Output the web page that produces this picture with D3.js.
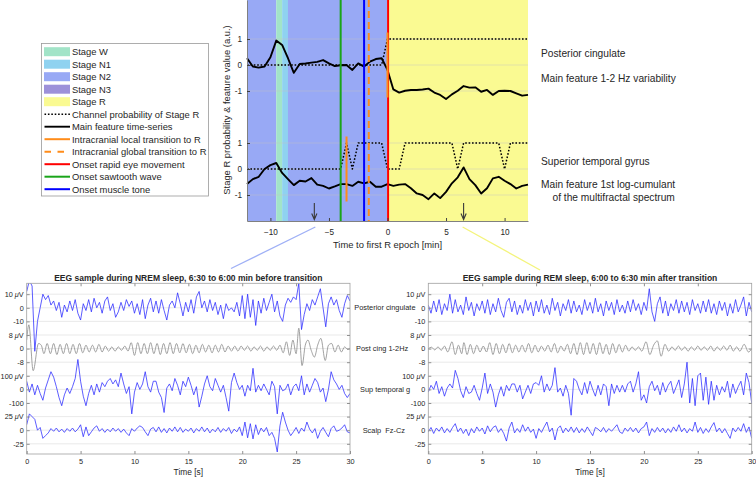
<!DOCTYPE html>
<html>
<head>
<meta charset="utf-8">
<script src="https://cdn.jsdelivr.net/npm/d3@7"></script>
<style>
body { margin: 0; background: #fff; }
text { font-family: "Liberation Sans", Arial, sans-serif; fill: #262626; }
</style>
</head>
<body>
<div id="chart-area"></div>
<script>
/*
*    Stage R transition figure: feature time-series + two EEG samples
*/

// ---------------- data: top panel ----------------
var epochMin = [-12, -11.5, -11, -10.5, -10, -9.5, -9, -8.5, -8, -7.5, -7, -6.5, -6, -5.5, -5, -4.5,
    -4, -3.5, -3, -2.5, -2, -1.5, -1, -0.5, 0, 0.5, 1, 1.5, 2, 2.5, 3, 3.5, 4, 4.5, 5, 5.5,
    6, 6.5, 7, 7.5, 8, 8.5, 9, 9.5, 10, 10.5, 11, 11.5, 12];

// one stage per 30 s epoch (48 epochs)
var hypnogram = ["N2", "N2", "N2", "N2", "N2", "W", "N1", "N2", "N2", "N2", "N2", "N2",
    "N2", "N2", "N2", "N2", "N2", "N2", "N2", "N2", "N2", "N2", "N2", "N2",
    "R", "R", "R", "R", "R", "R", "R", "R", "R", "R", "R", "R",
    "R", "R", "R", "R", "R", "R", "R", "R", "R", "R", "R", "R"];

var stageNames = ["W", "N1", "N2", "N3", "R"];
var stageColors = ["#a2e4c8", "#8fd2f0", "#98a9f5", "#9d91d9", "#fafa92"];

// posterior cingulate
var probPosterior = [0, 0, 0, 0, 0, 0, 0, 0, 0, 0, 0, 0, 0, 0, 0, 0, 0, 0, 0, 0, 0, 0, 0, 0,
    1, 1, 1, 1, 1, 1, 1, 1, 1, 1, 1, 1, 1, 1, 1, 1, 1, 1, 1, 1, 1, 1, 1, 1, 1];
var featPosterior = [0.26, -0.06, -0.1, -0.06, 0.3, 0.94, 0.77, 0.26, -0.3, 0.04, 0.06, 0.09,
    0.12, 0.19, 0.06, -0.04, -0.01, 0, -0.19, 0.06, -0.06, 0.13, 0.23, 0.26,
    -0.19, -0.94, -1.06, -0.99, -0.96, -0.96, -0.94, -0.91, -1.06, -1.15, -1.31, -1.13,
    -0.99, -0.81, -0.87, -0.86, -1.03, -0.96, -1.15, -1.0, -0.99, -1.0, -1.09, -1.18, -1.15];

// superior temporal gyrus
var probTemporal = [0, 0, 0, 0, 0, 0, 0, 0, 0, 0, 0, 0, 0, 0, 0, 0, 0, 1, 0, 1, 1, 1, 1, 1,
    0, 0, 0, 1, 1, 1, 1, 1, 1, 1, 1, 1, 0, 1, 1, 1, 1, 1, 1, 1, 0, 1, 1, 1, 1];
var featTemporal = [-0.58, -0.39, -0.3, 0, 0.15, 0.23, -0.15, -0.39, -0.62, -0.45, -0.48, -0.35,
    -0.6, -0.65, -0.75, -0.67, -0.58, -0.58, -0.65, -0.49, -0.55, -0.49, -0.68, -0.68,
    -0.58, -0.65, -0.6, -0.58, -0.74, -0.94, -1.0, -1.16, -0.94, -1.12, -0.88, -0.55,
    -0.32, 0.06, -0.39, -0.62, -0.94, -0.74, -0.36, -0.3, -0.45, -0.58, -0.75, -0.65, -0.6];

var channelOffsets = [4, 0];   // posterior drawn above, temporal below

var eventNames = ["Onset sawtooth wave", "Onset muscle tone", "Intracranial global transition to R", "Onset rapid eye movement"];
var eventMin = [-4, -2, -1.6, 0.05];
var eventColors = ["#1aa51a", "#0000ff", "#ff8c1a", "#ff0000"];

var localMin = [0, -3.5];      // intracranial local transition per channel
var arrowMin = [-6.25, 6.5];   // where the EEG samples were taken

var legendLabels = ["Stage W", "Stage N1", "Stage N2", "Stage N3", "Stage R",
    "Channel probability of Stage R", "Main feature time-series",
    "Intracranial local transition to R", "Intracranial global transition to R",
    "Onset rapid eye movement", "Onset sawtooth wave", "Onset muscle tone"];

// ---------------- data: EEG samples (uV, one value every 0.25 s) ----------------
var eegStep = 0.25;
var rowNames = ["Posterior cingulate", "Post cing 1-2Hz", "Sup temporal g", "Scalp\u00a0 Fz-Cz"];
var rowUnits = [10, 8, 100, 25];
var rowTickLabels = [["10 \u03bcV", "0", "-10"], ["8 \u03bcV", "0", "-8"],
    ["100 \u03bcV", "0", "-100"], ["25 \u03bcV", "0", "-25"]];

var nremPosterior = [12, 20, 16, -32, -10, 0, 10, 6,
    9, 2, 5, -2, 4, -7, 2, -3,
    5, -2, 6, -4, -9, 3, -2, 6,
    -3, 7, 0, 4, -4, 5, 8, -2,
    3, -7, -3, 4, -2, 6, 1, 5,
    -4, 3, -5, 6, -8, 2, 7, -3,
    5, -4, 6, -2, -9, 2, 5, 0,
    11, 3, -6, 4, -3, 6, -4, 8,
    12, 0, 5, -3, 6, -2, 4, -5,
    2, -8, 3, -2, 0, -3, 4, -6,
    9, -8, 10, -7, 6, -13, 5, -4,
    7, -2, 4, 10, -3, 5, -6, -10,
    2, 7, 4, 8, 6, 18, -16, -5,
    3, -2, 6, 2, 8, 14, 0, -14,
    3, 8, 2, 6, -2, -7, 3, 9,
    5];
// band-passed trace: [time s, uV] at its peaks and troughs
var nremPostCing = [[0, 5], [0.2, 14], [0.6, -13], [1.1, 3], [1.35, 2], [1.6, -3], [1.9, 3], [2.2, -3],
    [2.5, 3], [2.8, -3.5], [3.1, 2.5], [3.4, -3], [3.7, 3], [4.0, -3], [4.3, 2.5], [4.6, -3],
    [4.9, 3], [5.2, -2.5], [5.5, 2], [5.8, -2], [6.1, 2], [6.4, -2], [6.7, 2.5], [7.0, -2],
    [7.3, 1.5], [7.6, -1.5], [7.9, 1], [8.2, -1.5], [8.5, 1], [8.8, -1], [9.1, 1.5], [9.4, -1.5],
    [9.7, 3.5], [10.0, -4], [10.3, 3.5], [10.6, -3], [10.9, 3], [11.2, -3], [11.5, 3.5], [11.8, -3],
    [12.1, 3], [12.4, -3.5], [12.7, 3], [13.0, -3], [13.3, 3.5], [13.6, -3], [13.9, 3], [14.2, -2.5],
    [14.5, 3], [14.8, -2.5], [15.1, 2.5], [15.4, -3], [15.7, 2], [16.0, -2.5], [16.3, 2.5], [16.6, -2],
    [16.9, 2], [17.2, -2.5], [17.5, 2], [17.8, -2], [18.1, 2.5], [18.4, -2], [18.7, 1.5], [19.0, -1.5],
    [19.3, 1.5], [19.6, -1.5], [19.9, 1.5], [20.2, -1], [20.5, 1.5], [20.8, -1.5], [21.1, 1], [21.4, -1],
    [21.7, 1.5], [22.0, -1.5], [22.3, 1], [22.6, -1], [22.9, 1.5], [23.2, -1], [23.5, 2], [23.8, -2.5],
    [24.1, 4], [24.4, -4], [24.7, 5], [25.0, -3], [25.25, 12], [25.55, -10], [25.85, 2], [26.1, 5],
    [26.4, -1], [26.7, -5], [27.0, 2], [27.3, 6], [27.7, -7], [28.0, 2], [28.3, 3], [28.6, -2],
    [28.9, 2], [29.2, -2], [29.5, 1], [29.8, -0.5], [30, 0.5]];
var nremTemporal = [60, -20, 40, -40, 30, -30, -80, 10,
    70, 130, 90, 20, -60, -120, -40, 10,
    -30, 20, 80, 220, 60, -50, -120, -30,
    30, -40, 40, -20, 50, 20, 60, 80,
    40, 70, 20, 120, 40, -30, 20, -180,
    -20, 50, 0, 40, 130, 20, -20, 60,
    60, -20, -60, -170, 10, 40, -10, 80,
    30, -40, 60, 20, 90, 30, -40, 20,
    -130, -50, 40, 100, 20, -10, 80, 30,
    -20, 30, -60, -160, 50, 120, 50, 0,
    30, -50, 30, -10, 155, -20, 30, -10,
    40, 0, -40, 60, 20, -180, 30, -10,
    0, 40, -40, 20, 40, -10, 100, -40,
    40, -20, 30, 80, 50, -20, 10, -90,
    0, 130, 70, 40, 0, 30, -30, -60,
    -30];
var nremScalp = [10, 30, 25, 20, 0, 5, -15, -10,
    -5, 3, -2, 4, -3, 2, -4, 3,
    -2, 4, -3, 2, 10, -12, 6, -10,
    -3, 4, 8, -2, 3, -4, 2, -3,
    4, -2, 3, -4, 2, -5, -10, 3,
    -2, 4, 8, 5, -3, -10, 2, 5,
    -3, 6, -4, 3, -5, 4, -2, 6,
    -3, 5, -4, 2, -2, 4, -5, 3,
    -2, 6, -3, 4, -5, 2, -3, 5,
    -4, 3, -2, 5, -6, 2, -3, 6,
    -10, 15, -14, 12, -16, 10, -8, 4,
    -3, 5, -10, -4, -15, -40, 8, 33,
    15, 0, -10, -3, 5, -6, 4, -2,
    15, 2, -5, 3, -15, -2, 5, -4,
    -12, 3, 8, -2, 0, 4, 10, -3,
    -5];

var remPosterior = [2, -4, 5, -3, 6, -5, 3, -2,
    10, -4, 6, -3, 2, -5, 8, -2,
    4, -6, 3, -2, 5, -4, 6, -5,
    3, -3, 7, -2, -7, 4, 7, -3,
    5, -5, 2, -4, 6, -2, 4, -6,
    5, -3, 6, -4, 2, -5, 7, -2,
    4, -6, 3, -2, 6, -4, 5, -3,
    2, -5, 6, -2, 4, -4, 7, -3,
    3, -6, 5, -2, 4, -5, 6, -3,
    2, -4, 5, -3, 6, -2, 3, -5,
    4, -2, 14, -3, -10, 3, 8, -4,
    5, -6, 3, -2, 6, -4, 5, -3,
    4, -5, 6, -2, 3, -4, 5, -3,
    6, -4, 3, -5, 5, -2, 4, -6,
    3, -4, 6, -3, 2, 8, -6, 4,
    -3];
var remPostCing = [[0, 0], [0.3, 0.8], [0.6, -0.8], [0.9, 1], [1.2, -1], [1.5, 1.5], [1.8, -2], [2.2, 4],
    [2.5, -3.5], [2.8, 2], [3.1, -3], [3.3, 3.5], [3.6, -3.5], [3.9, 2.5], [4.2, -3], [4.5, 2],
    [4.8, -2], [5.1, 1.5], [5.4, -2], [5.7, 3.5], [6.0, -3.5], [6.3, 3], [6.6, -3], [6.9, 2.5],
    [7.2, -2.5], [7.5, 3], [7.8, -2.5], [8.1, 2], [8.4, -2], [8.7, 2], [9.0, -2], [9.3, 3],
    [9.6, -2.5], [9.9, 2], [10.2, -2], [10.5, 1.5], [10.8, -1.5], [11.1, 2], [11.4, -2], [11.7, 3],
    [12.0, -2.5], [12.3, 1.5], [12.6, -1.5], [12.9, 2.5], [13.2, -3], [13.5, 3], [13.8, -3.5], [14.1, 3.5],
    [14.4, -3.5], [14.7, 3.5], [15.0, -3], [15.3, 3], [15.6, -3.5], [15.9, 3.5], [16.2, -3], [16.5, 2.5],
    [16.8, -3.5], [17.1, 3], [17.4, -2.5], [17.7, 2.5], [18.0, -2], [18.3, 2], [18.6, -1.5], [18.9, 1],
    [19.2, -1], [19.5, 1], [19.8, -1.5], [20.2, 4], [20.55, -3.5], [20.9, 2], [21.25, 4.5], [21.6, -4.5],
    [21.95, 2.5], [22.3, -1.5], [22.6, 1], [22.9, -1], [23.2, 1.5], [23.5, -1], [23.8, 1], [24.1, -1.5],
    [24.4, 1], [24.7, -1], [25.0, 1.5], [25.3, -1], [25.6, 1], [25.9, -1], [26.2, 1.5], [26.5, -1.5],
    [26.8, 1], [27.1, -1], [27.4, 1.5], [27.7, -1], [28.0, 2], [28.3, -1.5], [28.6, 1], [28.9, -1.5],
    [29.3, 2.5], [29.7, -2], [30, 0]];
var remTemporal = [-20, 30, 0, 60, -30, 20, -50, 10,
    40, 10, 140, 80, -10, -60, 20, -30,
    -20, 30, -30, -80, 10, 120, -30, 40,
    -20, -130, -40, 20, -50, 30, -10, 40,
    40, -20, 30, -70, -20, 30, -30, 40,
    50, 30, 100, -20, 40, -10, 30, 160,
    -20, 10, -50, 30, -30, -190, 80, 60,
    0, -40, 50, -30, 60, 0, -50, 30,
    -40, 40, 20, -120, 40, -30, 30, -20,
    30, -20, 40, 60, -20, 40, 130, -80,
    -40, -100, 20, 60, -10, 30, -40, 50,
    -20, 30, 60, -30, 20, 70, -60, 40,
    200, -100, 80, -120, 100, 120, -80, 90,
    -110, 60, -80, 30, -40, 20, -20, 60,
    -60, 40, -30, 20, 60, -40, 120, 50,
    -100];
var remScalp = [-3, 5, -6, 4, -2, 6, -5, 3,
    -4, 5, 12, -3, 4, -6, 2, -10,
    3, -5, 6, -2, 4, -7, 8, -3,
    5, 8, -4, 3, -6, -20, 4, 15,
    -5, 3, -4, 10, -2, 6, -4, 2,
    -15, 3, -4, 6, 15, -3, 4, -18,
    3, 8, -5, 4, -3, 6, -4, 5,
    -5, 3, -4, 6, -2, -10, 5, 2,
    -3, 5, -4, 3, -2, 4, 10, -3,
    -6, 4, -2, 5, -3, 4, -5, 3,
    6, 15, -10, 3, -4, 5, -3, 4,
    -5, 3, -4, 6, -2, 10, -3, 4,
    -5, 3, -2, 15, -4, 5, -6, 3,
    -4, 6, 14, -3, 4, -5, 3, -6,
    -15, 4, -3, 5, -2, 12, -4, 6,
    -15];

// ---------------- svg ----------------
var svg = d3.select("#chart-area")
    .append("svg")
        .attr("width", 756)
        .attr("height", 477);

// ================= top panel =================
var tp = { left: 247, right: 528, top: 0, bottom: 221 };

var x = d3.scaleLinear().domain([-12, 12]).range([tp.left, tp.right]);
var y = d3.scaleLinear().domain([-2, 6.5]).range([tp.bottom, tp.top]);
var stageColor = d3.scaleOrdinal().domain(stageNames).range(stageColors);

var g = svg.append("g");

// stage backgrounds, merged into runs
var runs = [];
hypnogram.forEach(function(s, i){
    var last = runs[runs.length - 1];
    if (last && last.stage === s) { last.t1 = epochMin[i + 1]; }
    else { runs.push({ stage: s, t0: epochMin[i], t1: epochMin[i + 1] }); }
});
g.selectAll("rect.stage")
    .data(runs)
    .enter().append("rect")
        .attr("class", "stage")
        .attr("x", function(d){ return x(d.t0); })
        .attr("y", tp.top)
        .attr("width", function(d){ return x(d.t1) - x(d.t0); })
        .attr("height", tp.bottom - tp.top)
        .attr("fill", function(d){ return stageColor(d.stage); });

// horizontal grid
var yTicks = [5, 4, 3, 1, 0, -1];
g.selectAll("line.grid")
    .data(yTicks)
    .enter().append("line")
        .attr("x1", tp.left).attr("x2", tp.right)
        .attr("y1", function(d){ return y(d); })
        .attr("y2", function(d){ return y(d); })
        .attr("stroke", "#c4c4c4")
        .attr("stroke-opacity", 0.55)
        .attr("stroke-width", 0.8);

// probability (dotted) and main feature (solid) per channel
var series = [
    { values: probPosterior, off: channelOffsets[0], dash: "1.6,1.8", w: 1.5 },
    { values: probTemporal, off: channelOffsets[1], dash: "1.6,1.8", w: 1.5 },
    { values: featPosterior, off: channelOffsets[0], dash: null, w: 1.9 },
    { values: featTemporal, off: channelOffsets[1], dash: null, w: 1.9 }
];
series.forEach(function(s){
    var line = d3.line()
        .x(function(d, i){ return x(epochMin[i]); })
        .y(function(d){ return y(d + s.off); });
    g.append("path")
        .attr("d", line(s.values))
        .attr("fill", "none")
        .attr("stroke", "#000")
        .attr("stroke-width", s.w)
        .attr("stroke-dasharray", s.dash)
        .attr("stroke-linejoin", "round");
});

// event onsets, full height
g.selectAll("line.event")
    .data(eventMin)
    .enter().append("line")
        .attr("x1", function(d){ return x(d); })
        .attr("x2", function(d){ return x(d); })
        .attr("y1", tp.top).attr("y2", tp.bottom)
        .attr("stroke", function(d, i){ return eventColors[i]; })
        .attr("stroke-width", 2)
        .attr("stroke-dasharray", function(d, i){ return i === 2 ? "7,4" : null; });

// local transitions, one short bar per channel
g.selectAll("line.local")
    .data(localMin)
    .enter().append("line")
        .attr("x1", function(d){ return x(d); })
        .attr("x2", function(d){ return x(d); })
        .attr("y1", function(d, i){ return y(channelOffsets[i] + 1.25); })
        .attr("y2", function(d, i){ return y(channelOffsets[i] - 1.25); })
        .attr("stroke", "#ff8c1a")
        .attr("stroke-width", 2);

// axes
var xAxisCall = d3.axisBottom(x)
    .tickValues([-10, -5, 0, 5, 10])
    .tickSizeInner(-3).tickSizeOuter(0).tickPadding(8);
var xAx = g.append("g")
    .attr("transform", "translate(0, " + tp.bottom + ")")
    .call(xAxisCall);
xAx.selectAll("text").attr("font-size", "8.2px").attr("font-family", null);

var yAxisCall = d3.axisLeft(y)
    .tickValues(yTicks)
    .tickSizeInner(-3).tickSizeOuter(0).tickPadding(5)
    .tickFormat(function(d){ return d > 2 ? d - channelOffsets[0] : d; });
var yAx = g.append("g")
    .attr("transform", "translate(" + tp.left + ", 0)")
    .call(yAxisCall);
yAx.selectAll("text").attr("font-size", "8.2px").attr("font-family", null);
[xAx, yAx].forEach(function(a){
    a.attr("font-family", null);
    a.select(".domain").attr("stroke", "#808080");
    a.selectAll(".tick line").attr("stroke", "#404040");
});

// axis labels
g.append("text")
    .attr("x", x(0))
    .attr("y", 247.5)
    .attr("font-size", "9.4px")
    .attr("text-anchor", "middle")
    .text("Time to first R epoch [min]");

g.append("text")
    .attr("x", -110)
    .attr("y", 229.5)
    .attr("font-size", "9.4px")
    .attr("text-anchor", "middle")
    .attr("transform", "rotate(-90)")
    .text("Stage R probability & feature value (a.u.)");

// channel labels on the right
var sideLabels = [
    { t: "Posterior cingulate", x: 541, y: 56.5 },
    { t: "Main feature 1-2 Hz variability", x: 541, y: 81.5 },
    { t: "Superior temporal gyrus", x: 541, y: 164.5 },
    { t: "Main feature 1st log-cumulant", x: 541, y: 187.5 },
    { t: "of the multifractal spectrum", x: 552.5, y: 200.5 }
];
g.selectAll("text.side")
    .data(sideLabels)
    .enter().append("text")
        .attr("x", function(d){ return d.x; })
        .attr("y", function(d){ return d.y; })
        .attr("font-size", "10.2px")
        .text(function(d){ return d.t; });

// arrows marking the sampled epochs
arrowMin.forEach(function(m){
    var ax = x(m);
    g.append("path")
        .attr("d", "M" + ax + ",203V219.5M" + (ax - 2.6) + ",213.5L" + ax + ",219.5L" + (ax + 2.6) + ",213.5")
        .attr("fill", "none")
        .attr("stroke", "#3a3a3a")
        .attr("stroke-width", 1.1);
});

// zoom lines down to the EEG samples
g.append("line")
    .attr("x1", x(arrowMin[0]) + 1).attr("y1", 227)
    .attr("x2", 231).attr("y2", 268.5)
    .attr("stroke", "#9fb0f6").attr("stroke-width", 1.3);
g.append("line")
    .attr("x1", x(arrowMin[1]) - 1).attr("y1", 227)
    .attr("x2", 540).attr("y2", 270)
    .attr("stroke", "#f4f47c").attr("stroke-width", 1.3);

// ---------------- legend ----------------
var leg = svg.append("g");
leg.append("rect")
    .attr("x", 41.5).attr("y", 43.5)
    .attr("width", 167).attr("height", 152.5)
    .attr("fill", "#fff")
    .attr("stroke", "#9a9a9a")
    .attr("stroke-width", 0.8);

var legStyle = [
    null, null, null, null, null,
    { c: "#000", w: 1.5, dash: "1.6,1.8" },
    { c: "#000", w: 1.9, dash: null },
    { c: "#ff8c1a", w: 2, dash: null },
    { c: "#ff8c1a", w: 2, dash: "6.5,6.5" },
    { c: eventColors[3], w: 2, dash: null },
    { c: eventColors[0], w: 2, dash: null },
    { c: eventColors[1], w: 2, dash: null }
];
legendLabels.forEach(function(lbl, i){
    var cy = 51.7 + 12.5 * i;
    if (i < stageNames.length) {
        leg.append("rect")
            .attr("x", 44).attr("y", cy - 4.5)
            .attr("width", 26).attr("height", 9)
            .attr("fill", stageColor(stageNames[i]));
    } else {
        var s = legStyle[i];
        leg.append("line")
            .attr("x1", 44.5).attr("x2", 70)
            .attr("y1", cy).attr("y2", cy)
            .attr("stroke", s.c)
            .attr("stroke-width", s.w)
            .attr("stroke-dasharray", s.dash);
    }
    leg.append("text")
        .attr("x", 72)
        .attr("y", cy + 3.3)
        .attr("font-size", "9.4px")
        .text(lbl);
});

// ================= EEG panels =================
var eegPanels = [
    { left: 26.7, right: 350, rows: [nremPosterior, nremPostCing, nremTemporal, nremScalp],
      title: "EEG sample during NREM sleep, 6:30 to 6:00 min before transition", names: false },
    { left: 428.3, right: 751.7, rows: [remPosterior, remPostCing, remTemporal, remScalp],
      title: "EEG sample during REM sleep, 6:00 to 6:30 min after transition", names: true }
];
var eb = { top: 283.3, bottom: 454 };
// rows are stacked on one axis: tick index 0..11, row r centred on index 3r+1
var yB = d3.scaleLinear().domain([-0.8, 11.75]).range([eb.top, eb.bottom]);
var tickIdx = d3.range(12);
var nameX = [354.3, 356, 360, 362.7];

eegPanels.forEach(function(p, pi){
    var xB = d3.scaleLinear().domain([0, 30]).range([p.left, p.right]);
    var pg = svg.append("g");

    pg.append("clipPath").attr("id", "clip" + pi)
        .append("rect")
            .attr("x", p.left).attr("y", eb.top)
            .attr("width", p.right - p.left).attr("height", eb.bottom - eb.top);

    pg.selectAll("line.grid")
        .data(tickIdx)
        .enter().append("line")
            .attr("x1", p.left).attr("x2", p.right)
            .attr("y1", function(d){ return yB(d); })
            .attr("y2", function(d){ return yB(d); })
            .attr("stroke", "#e3e3e3")
            .attr("stroke-width", 0.8);

    var traces = pg.append("g").attr("clip-path", "url(#clip" + pi + ")");
    p.rows.forEach(function(vals, r){
        var toY = function(v){ return yB(3 * r + 1 - v / rowUnits[r]); };
        var line;
        if (r === 1) {
            line = d3.line()
                .x(function(d){ return xB(d[0]); })
                .y(function(d){ return toY(d[1]); })
                .curve(d3.curveMonotoneX);
        } else {
            line = d3.line()
                .x(function(d, i){ return xB(i * eegStep); })
                .y(function(d){ return toY(d); });
        }
        traces.append("path")
            .attr("d", line(vals))
            .attr("fill", "none")
            .attr("stroke", r === 1 ? "#8a8a8a" : "#2a2aff")
            .attr("stroke-width", r === 1 ? 0.8 : 0.9)
            .attr("stroke-opacity", r === 1 ? 1 : 0.85)
            .attr("stroke-linejoin", "round");
    });

    // frame
    pg.append("rect")
        .attr("x", p.left).attr("y", eb.top)
        .attr("width", p.right - p.left).attr("height", eb.bottom - eb.top)
        .attr("fill", "none")
        .attr("stroke", "#a0a0a0")
        .attr("stroke-width", 0.8);

    // x axis
    var xb = pg.append("g")
        .attr("transform", "translate(0, " + eb.bottom + ")")
        .call(d3.axisBottom(xB).tickValues([0, 5, 10, 15, 20, 25, 30])
            .tickSizeInner(-3).tickSizeOuter(0).tickPadding(4.7));
    var xt = pg.append("g")
        .attr("transform", "translate(0, " + eb.top + ")")
        .call(d3.axisTop(xB).tickValues([5, 10, 15, 20, 25])
            .tickSizeInner(-3).tickSizeOuter(0).tickFormat(""));
    // y ticks with uV labels
    var yl = pg.append("g")
        .attr("transform", "translate(" + p.left + ", 0)")
        .call(d3.axisLeft(yB).tickValues(tickIdx)
            .tickSizeInner(-3).tickSizeOuter(0).tickPadding(3)
            .tickFormat(function(d){ return rowTickLabels[Math.floor(d / 3)][d % 3]; }));
    var yr = pg.append("g")
        .attr("transform", "translate(" + p.right + ", 0)")
        .call(d3.axisRight(yB).tickValues(tickIdx)
            .tickSizeInner(-3).tickSizeOuter(0).tickFormat(""));
    [xb, xt, yl, yr].forEach(function(a){
        a.attr("font-family", null);
        a.select(".domain").remove();
        a.selectAll(".tick line").attr("stroke", "#909090");
        a.selectAll("text").attr("font-size", "7.3px");
    });
    // italic mu like the TeX label
    yl.selectAll("text").each(function(){
        var t = d3.select(this), s = t.text();
        var k = s.indexOf("\u03bc");
        if (k < 0) return;
        t.text(null);
        t.append("tspan").text(s.slice(0, k));
        t.append("tspan").attr("font-style", "italic").text("\u03bc");
        t.append("tspan").text(s.slice(k + 1));
    });

    pg.append("text")
        .attr("x", (p.left + p.right) / 2)
        .attr("y", 280.8)
        .attr("font-size", "8.5px")
        .attr("font-weight", "bold")
        .attr("text-anchor", "middle")
        .text(p.title);

    pg.append("text")
        .attr("x", (p.left + p.right) / 2)
        .attr("y", 475)
        .attr("font-size", "8.4px")
        .attr("text-anchor", "middle")
        .text("Time [s]");

    if (p.names) {
        pg.selectAll("text.rowname")
            .data(rowNames)
            .enter().append("text")
                .attr("x", function(d, i){ return nameX[i]; })
                .attr("y", function(d, i){ return yB(3 * i + 1) + 2.6; })
                .attr("font-size", "7.4px")
                .text(function(d){ return d; });
    }
});
</script>
</body>
</html>
